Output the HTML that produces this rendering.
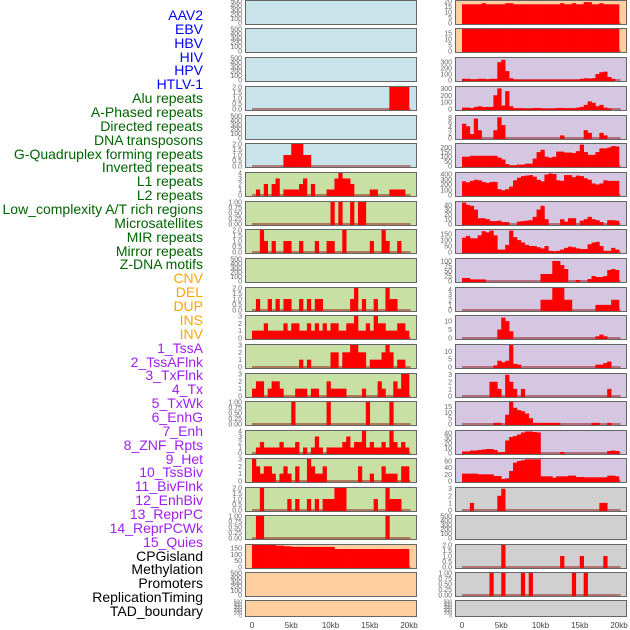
<!DOCTYPE html>
<html><head><meta charset="utf-8"><style>
body{margin:0;background:#fff;width:630px;height:630px;overflow:hidden;font-family:"Liberation Sans",sans-serif}
#labels div{position:absolute;right:427px;font-size:14px;line-height:14px;white-space:nowrap}
</style></head><body>
<div id="labels"></div>
<svg id="chart" width="630" height="630" style="position:absolute;left:0;top:0"></svg>
<script>
const trackLabels=["AAV2","EBV","HBV","HIV","HPV","HTLV-1","Alu repeats","A-Phased repeats","Directed repeats","DNA transposons","G-Quadruplex forming repeats","Inverted repeats","L1 repeats","L2 repeats","Low_complexity A/T rich regions","Microsatellites","MIR repeats","Mirror repeats","Z-DNA motifs","CNV","DEL","DUP","INS","INV","1_TssA","2_TssAFlnk","3_TxFlnk","4_Tx","5_TxWk","6_EnhG","7_Enh","8_ZNF_Rpts","9_Het","10_TssBiv","11_BivFlnk","12_EnhBiv","13_ReprPC","14_ReprPCWk","15_Quies","CPGisland","Methylation","Promoters","ReplicationTiming","TAD_boundary"];
const labelGroups=[6,13,5,15,5];
const groupColors=["#0000ff","#006400","#ffa500","#a020f0","#000000"];
const xTicks=[0,5,10,15,20];
const xTickLabels=["0","5kb","10kb","15kb","20kb"];
const Z=40;
function sp(o){const a=new Array(Z).fill(0);for(const k in o)a[+k]=o[k];return a;}
// left column values (40 bins of 0.5kb)
const L4=sp({35:2,36:2,37:2,38:2,39:2});
const L6=sp({8:1,9:1,10:2,11:2,12:2,13:1,14:1});
const L7=[0,1,0,2,0,2,3,0,1,1,1,1,2,3,0,2,0,0,0,1,1,3,4,3,3,2,0,0,0,0,1,1,0,0,0,1,1,1,1,0];
const L8=sp({20:1,22:1,25:1,27:1,28:1});
const L9=sp({2:2,3:1,5:1,8:1,9:1,12:1,16:1,19:1,20:1,23:2,30:1,33:2,34:1,37:1});
const L11=sp({1:1,4:1,6:1,8:1,9:1,12:1,14:1,16:1,17:1,25:1,26:2,28:1,31:1,34:2,35:1,36:1});
const L12=[1,1,1,2,1,1,1,1,2,1,2,2,1,1,2,1,2,1,2,1,2,2,1,1,2,2,3,1,1,2,1,3,2,2,1,1,1,2,2,1];
const L13=sp({12:1,14:1,20:2,21:2,23:2,24:2,25:3,26:3,27:2,28:2,30:1,31:1,32:1,33:2,34:3,35:2,37:1,38:1});
const L14=sp({0:1,1:2,2:2,4:1,5:2,6:2,7:1,11:1,12:1,13:1,15:1,16:1,19:2,20:1,21:1,22:1,23:1,28:1,32:2,33:1,36:2,37:1,38:3,39:3});
const L15=sp({10:1,19:1,29:1,35:1});
const L16=[0,1,2,1,1,1,1,2,1,1,1,2,0,1,0,1,3,1,0,1,1,1,1,2,3,1,2,2,4,1,2,1,1,2,1,4,2,1,2,1];
const L17=sp({0:3,1:2,2:1,3:2,4:2,5:1,7:1,8:2,9:1,11:2,14:3,15:2,16:1,17:1,18:2,27:2,30:1,33:2,34:1,35:1,36:1,38:2,39:2});
const L18=sp({2:2,9:1,11:1,14:1,16:1,18:1,19:1,20:1,21:2,22:2,23:2,31:1,34:2,35:1,36:1,37:1});
const L19=sp({1:1,2:1,34:1});
const L20=[175,175,175,175,175,175,170,170,165,165,160,160,160,160,160,160,160,160,160,160,160,143,143,143,143,143,143,143,143,143,143,143,143,143,143,143,143,143,143,143];
// right column values
const R1=[17,17,17,17,17,18,17,17,17,17,17,18,18,17,17,17,17,17,17,17,17,17,17,17,17,18,17,17,18,17,17,19,19,17,17,18,17,17,17,17];
const R2=new Array(Z).fill(19);
const R3=[20,20,10,10,20,20,10,20,20,300,340,150,30,5,5,5,5,5,5,5,5,5,5,5,5,5,5,5,5,5,20,30,25,30,100,130,140,50,20,0];
const R4=[20,20,10,30,40,30,30,30,200,300,50,260,40,10,10,10,5,5,15,15,5,5,5,5,15,15,10,10,10,20,30,60,110,90,40,60,20,5,0,0];
const R5=sp({0:5.5,1:4.5,2:1.5,3:7.5,4:3,8:3,9:8,10:5,25:1,31:3,32:2,35:2,36:1});
const R6=[100,100,110,110,110,110,110,110,110,90,70,20,5,5,15,15,25,25,80,150,175,100,90,100,155,155,145,145,140,160,230,150,120,120,150,190,190,200,215,210];
const R7=[260,240,270,290,280,250,230,250,250,110,90,110,160,280,330,360,370,380,350,290,260,390,410,400,280,270,380,380,340,370,360,320,290,220,200,220,280,270,270,270];
const R8=[45,40,38,30,12,12,10,6,6,7,4,4,0,0,5,6,7,8,15,30,38,10,0,0,0,10,5,12,12,0,7,10,15,10,8,4,0,8,8,7];
const R9=[120,135,115,115,140,175,165,180,140,20,20,60,180,125,100,80,60,50,50,40,30,50,10,5,10,20,35,45,40,30,25,25,65,80,85,50,10,10,35,20];
const R10=sp({0:15,1:15,2:8,3:8,4:8,5:8,20:35,21:35,22:35,23:100,24:100,25:80,26:60,29:5,32:10,33:25,34:20,35:20,36:25,37:55,38:60,39:55});
const R11=sp({20:2,21:2,22:2,23:4.3,24:4.3,25:4.3,26:2,27:2,34:1,35:1,36:1,37:1,38:2,39:2});
const R12=sp({9:5,10:12,11:10,12:4,34:1,35:2,36:1});
const R13=sp({8:1,9:4,10:3,11:4,12:14,13:2,14:1.5,34:1.5,35:1.5,36:2.5,37:3.5});
const R14=sp({7:2,8:2,9:1,11:3,12:2,13:1,15:1,37:1});
const R15=sp({8:1,9:1,11:8,12:19,13:14,14:12,15:11,16:9,17:5,18:1,19:1,20:1,21:1,22:1,23:1,24:1,33:1,34:1,37:1});
const R16=sp({0:3,1:3,2:5,3:5,4:6,5:7,6:8,7:8,8:6,9:1,10:2,11:25,12:32,13:34,14:37,15:41,16:43,17:43,18:42,19:41,25:2,37:4,38:5,39:4});
const R17=[22,22,22,22,20,20,20,20,15,15,6,8,30,55,60,62,65,65,65,65,14,14,14,10,14,14,14,16,16,12,12,11,11,11,11,11,11,16,16,14];
const R18=sp({2:1,9:2,10:3,35:1,36:1});
const R20=sp({10:2,25:1,30:1,36:1});
const R21=sp({7:1,10:1,15:1,17:1,28:1,31:1});

const E=[0,100,200,300,400,500];
const T2=[0,0.5,1,1.5,2], T1=[0,0.25,0.5,0.75,1];
const leftData=[null,null,null,L4,null,L6,L7,L8,L9,null,L11,L12,L13,L14,L15,L16,L17,L18,L19,L20,null,null];
const leftTicks=[E,E,E,T2,E,T2,[0,1,2,3,4],T1,T2,E,T2,[0,1,2,3],[0,1,2,3],[0,1,2,3],T1,[0,1,2,3,4],[0,1,2,3],T2,T1,[0,50,100,150],E,E];
const leftMax=[500,500,500,2,500,2,4,1,2,500,2,3,3,3,1,4,3,2,1,175,500,500];
const rightData=[R1,R2,R3,R4,R5,R6,R7,R8,R9,R10,R11,R12,R13,R14,R15,R16,R17,R18,null,R20,R21,null];
const rightTicks=[[0,5,10,15,20],[0,5,10,15],[0,100,200,300],[0,100,200,300],[0,2,4,6,8],[0,50,100,150,200],[0,100,200,300,400],[0,10,20,30,40],[0,50,100,150],[0,25,50,75,100],[0,1,2,3,4],[0,5,10],[0,5,10],[0,1,2,3],[0,5,10,15],[0,10,20,30,40],[0,20,40,60],[0,1,2,3],E,T2,T1,E];
const rightMax=[20,18.5,370,320,8.5,237,420,46,185,110,4.3,13,14,3.1,19,44,66,3.1,500,2,1,500];
const leftBg=i=>i<6?"#c9e3ea":(i<19?"#c8e0a4":"#ffcf9f");
const rightBg=i=>i<2?"#ffcf9f":(i<17?"#d5c6e2":"#d0d0d0");
const rowTops=[0,28,57,86,115,143,172,201,229,258,287,315,344,373,401,430,458,487,515,544,572,600];

const NS="http://www.w3.org/2000/svg";
const svg=document.getElementById('chart');
function el(t,a,p){const e=document.createElementNS(NS,t);for(const k in a)e.setAttribute(k,a[k]);(p||svg).appendChild(e);return e;}
function fmt(v,ticks){const dec=ticks.some(t=>Math.round(t*100)%100!==0&&Math.round(t*100)%50!==0)?2:(ticks.some(t=>t%1!==0)?1:0);return v.toFixed(dec);}
// labels
const lab=document.getElementById('labels');
let li=0;
labelGroups.forEach((n,g)=>{for(let j=0;j<n;j++){const d=document.createElement('div');d.textContent=trackLabels[li];d.style.top=(8+li*13.86)+"px";d.style.color=groupColors[g];


lab.appendChild(d);li++;}});

function panel(col,i,data,ticks,ymax,bg){
  const x0=col===0?245:455, w=172, top=rowTops[i], h=i===21?17:25;
  const xs=kb=>x0+7+kb*7.85;
  const y0=top+h-2, y1=top+1;
  const ys=v=>y0-(v/ymax)*(y0-y1);
  const g=el('g',{});
  
  
  el('rect',{x:x0,y:top,width:w,height:h,fill:bg},g);
  if(data){
    const cp='c'+col+'_'+i;
    const cl=el('clipPath',{id:cp},g);el('rect',{x:x0,y:top,width:w,height:h},cl);
    const bg2=el('g',{'clip-path':'url(#'+cp+')'},g);
    el('line',{x1:xs(0),x2:xs(20.2),y1:y0,y2:y0,stroke:'rgba(139,0,0,0.45)','stroke-width':2},bg2);
    data.forEach((v,k)=>{if(v>0){const r=el('rect',{x:xs(k*0.5),y:ys(v),width:7.85*0.5+0.3,height:y0-ys(v)+1,fill:'#ff0000'},bg2);
      
      }});
  }
  el('rect',{x:x0+0.5,y:top+0.5,width:w-1,height:h-1,fill:'none',stroke:'#666','stroke-width':1},g);
  ticks.forEach(t=>{const tx=el('text',{x:x0-3,y:ys(t)+2.5,'font-size':(ticks.length>5&&i===21)?5:7,'text-anchor':'end',fill:'#666'},g);tx.textContent=fmt(t,ticks);});
}
for(let i=0;i<22;i++){panel(0,i,leftData[i],leftTicks[i],leftMax[i],leftBg(i));panel(1,i,rightData[i],rightTicks[i],rightMax[i],rightBg(i));}
[0,1].forEach(c=>{const x0=c===0?252:462;xTicks.forEach((t,k)=>{const tx=el('text',{x:x0+t*7.85,y:628,'font-size':8,'text-anchor':'middle',fill:'#444'});tx.textContent=xTickLabels[k];

});});
</script>
</body></html>
